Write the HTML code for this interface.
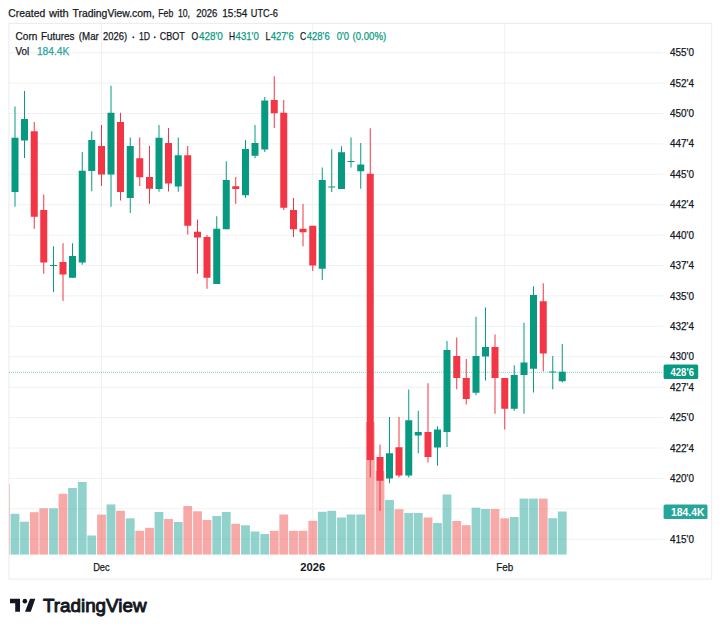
<!DOCTYPE html>
<html><head><meta charset="utf-8"><title>Corn Futures</title>
<style>
html,body{margin:0;padding:0;background:#fff;}
body{width:720px;height:632px;overflow:hidden;font-family:"Liberation Sans",sans-serif;}
svg{display:block;position:absolute;left:0;top:0;}
text{font-family:"Liberation Sans",sans-serif;font-size:11px;fill:#131722;stroke:#131722;stroke-width:0.25px;paint-order:stroke;}
.g{fill:#089981}.r{fill:#f23645}.vg{fill:rgba(38,166,154,0.5)}.vr{fill:rgba(239,83,80,0.5)}
</style></head><body>
<svg width="720" height="632" viewBox="0 0 720 632">
<rect x="0" y="0" width="720" height="632" fill="#fff"/>
<g fill="#f1f1f2">
<rect x="9" y="52.20" width="654" height="1"/>
<rect x="9" y="82.61" width="654" height="1"/>
<rect x="9" y="113.01" width="654" height="1"/>
<rect x="9" y="143.42" width="654" height="1"/>
<rect x="9" y="173.83" width="654" height="1"/>
<rect x="9" y="204.23" width="654" height="1"/>
<rect x="9" y="234.64" width="654" height="1"/>
<rect x="9" y="265.04" width="654" height="1"/>
<rect x="9" y="295.45" width="654" height="1"/>
<rect x="9" y="325.86" width="654" height="1"/>
<rect x="9" y="356.26" width="654" height="1"/>
<rect x="9" y="386.67" width="654" height="1"/>
<rect x="9" y="417.08" width="654" height="1"/>
<rect x="9" y="447.48" width="654" height="1"/>
<rect x="9" y="477.89" width="654" height="1"/>
<rect x="9" y="508.29" width="654" height="1"/>
<rect x="9" y="538.70" width="654" height="1"/>
<rect x="101.00" y="23.5" width="1" height="531.5"/>
<rect x="312.25" y="23.5" width="1" height="531.5"/>
<rect x="504.25" y="23.5" width="1" height="531.5"/>
</g>
<rect x="8.9" y="23.4" width="702.8" height="555.7" fill="none" stroke="#ebecef" stroke-width="1"/>
<g>
<rect class="vr" x="9.30" y="484.20" width="0.60" height="70.40"/>
<rect class="vg" x="10.60" y="513.80" width="8.80" height="40.80"/>
<rect class="vg" x="20.10" y="521.70" width="8.80" height="32.90"/>
<rect class="vr" x="29.85" y="512.20" width="8.80" height="42.40"/>
<rect class="vr" x="39.35" y="508.30" width="8.80" height="46.30"/>
<rect class="vg" x="49.10" y="508.30" width="8.80" height="46.30"/>
<rect class="vr" x="58.60" y="493.80" width="8.80" height="60.80"/>
<rect class="vg" x="68.10" y="488.00" width="8.80" height="66.60"/>
<rect class="vg" x="77.85" y="482.00" width="8.80" height="72.60"/>
<rect class="vg" x="87.35" y="535.50" width="8.80" height="19.10"/>
<rect class="vr" x="97.10" y="514.60" width="8.80" height="40.00"/>
<rect class="vg" x="106.60" y="504.40" width="8.80" height="50.20"/>
<rect class="vr" x="116.10" y="510.80" width="8.80" height="43.80"/>
<rect class="vg" x="125.85" y="518.30" width="8.80" height="36.30"/>
<rect class="vr" x="135.35" y="530.80" width="8.80" height="23.80"/>
<rect class="vr" x="145.10" y="527.80" width="8.80" height="26.80"/>
<rect class="vg" x="154.60" y="512.00" width="8.80" height="42.60"/>
<rect class="vr" x="164.10" y="519.00" width="8.80" height="35.60"/>
<rect class="vg" x="173.85" y="522.00" width="8.80" height="32.60"/>
<rect class="vr" x="183.35" y="506.00" width="8.80" height="48.60"/>
<rect class="vr" x="193.10" y="511.30" width="8.80" height="43.30"/>
<rect class="vr" x="202.60" y="520.00" width="8.80" height="34.60"/>
<rect class="vg" x="212.35" y="516.00" width="8.80" height="38.60"/>
<rect class="vg" x="221.85" y="512.00" width="8.80" height="42.60"/>
<rect class="vr" x="231.35" y="523.80" width="8.80" height="30.80"/>
<rect class="vg" x="241.10" y="525.30" width="8.80" height="29.30"/>
<rect class="vg" x="250.60" y="531.50" width="8.80" height="23.10"/>
<rect class="vg" x="260.35" y="534.00" width="8.80" height="20.60"/>
<rect class="vr" x="269.85" y="530.80" width="8.80" height="23.80"/>
<rect class="vr" x="279.35" y="514.50" width="8.80" height="40.10"/>
<rect class="vr" x="289.10" y="530.80" width="8.80" height="23.80"/>
<rect class="vr" x="298.60" y="530.80" width="8.80" height="23.80"/>
<rect class="vr" x="308.35" y="520.80" width="8.80" height="33.80"/>
<rect class="vg" x="317.85" y="511.80" width="8.80" height="42.80"/>
<rect class="vg" x="327.35" y="510.80" width="8.80" height="43.80"/>
<rect class="vg" x="337.10" y="517.50" width="8.80" height="37.10"/>
<rect class="vg" x="346.60" y="514.50" width="8.80" height="40.10"/>
<rect class="vg" x="356.35" y="514.50" width="8.80" height="40.10"/>
<rect class="vr" x="365.85" y="422.00" width="8.80" height="132.60"/>
<rect class="vr" x="375.60" y="471.00" width="8.80" height="83.60"/>
<rect class="vg" x="385.10" y="500.00" width="8.80" height="54.60"/>
<rect class="vr" x="394.60" y="509.20" width="8.80" height="45.40"/>
<rect class="vg" x="404.35" y="513.00" width="8.80" height="41.60"/>
<rect class="vg" x="413.85" y="513.00" width="8.80" height="41.60"/>
<rect class="vr" x="423.60" y="517.50" width="8.80" height="37.10"/>
<rect class="vg" x="433.10" y="523.00" width="8.80" height="31.60"/>
<rect class="vg" x="442.60" y="494.50" width="8.80" height="60.10"/>
<rect class="vr" x="452.35" y="521.00" width="8.80" height="33.60"/>
<rect class="vr" x="461.85" y="525.20" width="8.80" height="29.40"/>
<rect class="vg" x="471.60" y="507.70" width="8.80" height="46.90"/>
<rect class="vg" x="481.10" y="509.00" width="8.80" height="45.60"/>
<rect class="vr" x="490.60" y="509.00" width="8.80" height="45.60"/>
<rect class="vr" x="500.35" y="518.30" width="8.80" height="36.30"/>
<rect class="vg" x="509.85" y="517.00" width="8.80" height="37.60"/>
<rect class="vg" x="519.60" y="498.60" width="8.80" height="56.00"/>
<rect class="vg" x="529.10" y="498.60" width="8.80" height="56.00"/>
<rect class="vr" x="538.85" y="498.60" width="8.80" height="56.00"/>
<rect class="vg" x="548.35" y="518.20" width="8.80" height="36.40"/>
<rect class="vg" x="557.85" y="511.50" width="8.80" height="43.10"/>
</g>
<g>
<rect class="g" x="14.50" y="106.50" width="1" height="100.25"/><rect class="g" x="11.50" y="137.75" width="7" height="54.25"/>
<rect class="g" x="24.00" y="91.00" width="1" height="67.00"/><rect class="g" x="21.00" y="119.00" width="7" height="21.50"/>
<rect class="r" x="33.75" y="122.00" width="1" height="106.75"/><rect class="r" x="30.75" y="131.25" width="7" height="85.50"/>
<rect class="r" x="43.25" y="194.50" width="1" height="79.25"/><rect class="r" x="40.25" y="210.00" width="7" height="52.50"/>
<rect class="g" x="53.00" y="246.25" width="1" height="45.75"/><rect class="g" x="50.00" y="265.00" width="7" height="1.00"/>
<rect class="r" x="62.50" y="243.25" width="1" height="57.75"/><rect class="r" x="59.50" y="262.00" width="7" height="12.50"/>
<rect class="g" x="72.00" y="243.25" width="1" height="34.50"/><rect class="g" x="69.00" y="256.00" width="7" height="21.75"/>
<rect class="g" x="81.75" y="152.00" width="1" height="112.75"/><rect class="g" x="78.75" y="170.75" width="7" height="91.75"/>
<rect class="g" x="91.25" y="131.25" width="1" height="60.00"/><rect class="g" x="88.25" y="140.00" width="7" height="31.00"/>
<rect class="r" x="101.00" y="125.00" width="1" height="61.00"/><rect class="r" x="98.00" y="146.00" width="7" height="28.50"/>
<rect class="g" x="110.50" y="85.75" width="1" height="121.00"/><rect class="g" x="107.50" y="112.75" width="7" height="61.75"/>
<rect class="r" x="120.00" y="112.75" width="1" height="87.75"/><rect class="r" x="117.00" y="122.00" width="7" height="70.00"/>
<rect class="g" x="129.75" y="137.50" width="1" height="75.50"/><rect class="g" x="126.75" y="146.00" width="7" height="52.00"/>
<rect class="r" x="139.25" y="137.50" width="1" height="48.50"/><rect class="r" x="136.25" y="158.25" width="7" height="19.00"/>
<rect class="r" x="149.00" y="146.00" width="1" height="57.75"/><rect class="r" x="146.00" y="177.00" width="7" height="11.75"/>
<rect class="g" x="158.50" y="125.00" width="1" height="66.75"/><rect class="g" x="155.50" y="137.75" width="7" height="51.25"/>
<rect class="r" x="168.00" y="128.00" width="1" height="63.50"/><rect class="r" x="165.00" y="143.00" width="7" height="40.50"/>
<rect class="g" x="177.75" y="137.50" width="1" height="54.25"/><rect class="g" x="174.75" y="155.25" width="7" height="31.25"/>
<rect class="r" x="187.25" y="146.00" width="1" height="88.50"/><rect class="r" x="184.25" y="155.25" width="7" height="70.50"/>
<rect class="r" x="197.00" y="219.50" width="1" height="54.25"/><rect class="r" x="194.00" y="231.75" width="7" height="5.75"/>
<rect class="r" x="206.50" y="235.00" width="1" height="53.75"/><rect class="r" x="203.50" y="237.00" width="7" height="40.75"/>
<rect class="g" x="216.25" y="216.25" width="1" height="67.75"/><rect class="g" x="213.25" y="228.75" width="7" height="55.25"/>
<rect class="g" x="225.75" y="161.25" width="1" height="68.00"/><rect class="g" x="222.75" y="180.00" width="7" height="49.25"/>
<rect class="r" x="235.25" y="177.00" width="1" height="26.75"/><rect class="r" x="232.25" y="186.25" width="7" height="2.75"/>
<rect class="g" x="245.00" y="140.00" width="1" height="57.75"/><rect class="g" x="242.00" y="149.00" width="7" height="46.25"/>
<rect class="g" x="254.50" y="125.00" width="1" height="33.25"/><rect class="g" x="251.50" y="143.00" width="7" height="12.75"/>
<rect class="g" x="264.25" y="97.00" width="1" height="55.00"/><rect class="g" x="261.25" y="100.50" width="7" height="49.00"/>
<rect class="r" x="273.75" y="76.25" width="1" height="51.75"/><rect class="r" x="270.75" y="100.00" width="7" height="13.25"/>
<rect class="r" x="283.25" y="100.00" width="1" height="110.00"/><rect class="r" x="280.25" y="112.75" width="7" height="95.00"/>
<rect class="r" x="293.00" y="198.00" width="1" height="39.00"/><rect class="r" x="290.00" y="210.00" width="7" height="19.25"/>
<rect class="r" x="302.50" y="204.00" width="1" height="42.25"/><rect class="r" x="299.50" y="228.75" width="7" height="3.50"/>
<rect class="r" x="312.25" y="225.75" width="1" height="45.25"/><rect class="r" x="309.25" y="225.75" width="7" height="39.75"/>
<rect class="g" x="321.75" y="167.50" width="1" height="112.50"/><rect class="g" x="318.75" y="180.00" width="7" height="88.75"/>
<rect class="g" x="331.25" y="149.25" width="1" height="42.75"/><rect class="g" x="328.25" y="186.50" width="7" height="1.00"/>
<rect class="g" x="341.00" y="146.25" width="1" height="42.75"/><rect class="g" x="338.00" y="152.25" width="7" height="36.75"/>
<rect class="g" x="350.50" y="137.50" width="1" height="30.00"/><rect class="g" x="347.50" y="161.00" width="7" height="1.00"/>
<rect class="g" x="360.25" y="143.00" width="1" height="45.75"/><rect class="g" x="357.25" y="164.50" width="7" height="6.75"/>
<rect class="r" x="369.75" y="128.25" width="1" height="349.25"/><rect class="r" x="366.75" y="173.75" width="7" height="286.25"/>
<rect class="r" x="379.50" y="444.50" width="1" height="66.25"/><rect class="r" x="376.50" y="457.00" width="7" height="23.75"/>
<rect class="g" x="389.00" y="417.00" width="1" height="66.25"/><rect class="g" x="386.00" y="453.25" width="7" height="25.25"/>
<rect class="r" x="398.50" y="417.00" width="1" height="60.50"/><rect class="r" x="395.50" y="447.25" width="7" height="28.25"/>
<rect class="g" x="408.25" y="389.50" width="1" height="88.00"/><rect class="g" x="405.25" y="420.25" width="7" height="55.25"/>
<rect class="g" x="417.75" y="410.75" width="1" height="42.50"/><rect class="g" x="414.75" y="432.00" width="7" height="3.50"/>
<rect class="r" x="427.50" y="383.25" width="1" height="79.25"/><rect class="r" x="424.50" y="432.00" width="7" height="25.00"/>
<rect class="g" x="437.00" y="426.25" width="1" height="39.50"/><rect class="g" x="434.00" y="429.50" width="7" height="18.00"/>
<rect class="g" x="446.50" y="341.00" width="1" height="106.00"/><rect class="g" x="443.50" y="350.00" width="7" height="82.00"/>
<rect class="r" x="456.25" y="337.50" width="1" height="51.75"/><rect class="r" x="453.25" y="356.00" width="7" height="22.00"/>
<rect class="r" x="465.75" y="359.00" width="1" height="45.50"/><rect class="r" x="462.75" y="378.00" width="7" height="21.00"/>
<rect class="g" x="475.50" y="316.75" width="1" height="78.50"/><rect class="g" x="472.50" y="356.00" width="7" height="36.75"/>
<rect class="g" x="485.00" y="307.50" width="1" height="73.00"/><rect class="g" x="482.00" y="347.00" width="7" height="9.50"/>
<rect class="r" x="494.50" y="334.50" width="1" height="79.25"/><rect class="r" x="491.50" y="347.00" width="7" height="31.00"/>
<rect class="r" x="504.25" y="378.00" width="1" height="51.50"/><rect class="r" x="501.25" y="378.00" width="7" height="30.75"/>
<rect class="g" x="513.75" y="365.25" width="1" height="45.50"/><rect class="g" x="510.75" y="375.00" width="7" height="33.75"/>
<rect class="g" x="523.50" y="322.75" width="1" height="91.00"/><rect class="g" x="520.50" y="362.50" width="7" height="12.50"/>
<rect class="g" x="533.00" y="286.25" width="1" height="106.25"/><rect class="g" x="530.00" y="295.00" width="7" height="73.75"/>
<rect class="r" x="542.75" y="283.25" width="1" height="88.00"/><rect class="r" x="539.75" y="301.25" width="7" height="52.25"/>
<rect class="g" x="552.25" y="356.00" width="1" height="33.25"/><rect class="g" x="549.25" y="371.50" width="7" height="1.00"/>
<rect class="g" x="561.75" y="344.00" width="1" height="38.50"/><rect class="g" x="558.75" y="371.75" width="7" height="9.50"/>
</g>
<line x1="9" x2="663" y1="372.30" y2="372.30" stroke="#089981" stroke-width="1" stroke-opacity="0.48" stroke-dasharray="1 1"/>
<text x="670" y="56.2" textLength="24" lengthAdjust="spacingAndGlyphs">455'0</text>
<text x="670" y="86.6" textLength="24" lengthAdjust="spacingAndGlyphs">452'4</text>
<text x="670" y="117.0" textLength="24" lengthAdjust="spacingAndGlyphs">450'0</text>
<text x="670" y="147.4" textLength="24" lengthAdjust="spacingAndGlyphs">447'4</text>
<text x="670" y="177.8" textLength="24" lengthAdjust="spacingAndGlyphs">445'0</text>
<text x="670" y="208.2" textLength="24" lengthAdjust="spacingAndGlyphs">442'4</text>
<text x="670" y="238.6" textLength="24" lengthAdjust="spacingAndGlyphs">440'0</text>
<text x="670" y="269.0" textLength="24" lengthAdjust="spacingAndGlyphs">437'4</text>
<text x="670" y="299.5" textLength="24" lengthAdjust="spacingAndGlyphs">435'0</text>
<text x="670" y="329.9" textLength="24" lengthAdjust="spacingAndGlyphs">432'4</text>
<text x="670" y="360.3" textLength="24" lengthAdjust="spacingAndGlyphs">430'0</text>
<text x="670" y="390.7" textLength="24" lengthAdjust="spacingAndGlyphs">427'4</text>
<text x="670" y="421.1" textLength="24" lengthAdjust="spacingAndGlyphs">425'0</text>
<text x="670" y="451.5" textLength="24" lengthAdjust="spacingAndGlyphs">422'4</text>
<text x="670" y="481.9" textLength="24" lengthAdjust="spacingAndGlyphs">420'0</text>
<text x="670" y="542.7" textLength="24" lengthAdjust="spacingAndGlyphs">415'0</text>
<rect x="663.6" y="364.5" width="34.6" height="14.5" rx="1.5" fill="#089981"/>
<text x="670.5" y="375.8" textLength="23.5" lengthAdjust="spacingAndGlyphs" style="fill:#fff;stroke:none;font-weight:bold">428'6</text>
<rect x="663.6" y="504.5" width="43.9" height="14.5" rx="1.5" fill="#26a69a"/>
<text x="671" y="515.8" textLength="33.5" lengthAdjust="spacingAndGlyphs" style="fill:#fff;stroke:none;font-weight:bold">184.4K</text>
<text x="101.4" y="571" text-anchor="middle" textLength="16.5" lengthAdjust="spacingAndGlyphs">Dec</text>
<text x="312.7" y="571" text-anchor="middle" textLength="25" lengthAdjust="spacingAndGlyphs" style="font-weight:bold;stroke:none">2026</text>
<text x="504.7" y="571" text-anchor="middle" textLength="17" lengthAdjust="spacingAndGlyphs">Feb</text>
<text x="8.3" y="16.7" textLength="36.9" lengthAdjust="spacingAndGlyphs">Created</text>
<text x="49.0" y="16.7" textLength="19.8" lengthAdjust="spacingAndGlyphs">with</text>
<text x="72.5" y="16.7" textLength="82.1" lengthAdjust="spacingAndGlyphs">TradingView.com,</text>
<text x="158.3" y="16.7" textLength="15.0" lengthAdjust="spacingAndGlyphs">Feb</text>
<text x="177.9" y="16.7" textLength="12.1" lengthAdjust="spacingAndGlyphs">10,</text>
<text x="196.2" y="16.7" textLength="21.2" lengthAdjust="spacingAndGlyphs">2026</text>
<text x="222.3" y="16.7" textLength="25.0" lengthAdjust="spacingAndGlyphs">15:54</text>
<text x="250.8" y="16.7" textLength="27.1" lengthAdjust="spacingAndGlyphs">UTC-6</text>
<text x="15.6" y="40.2" textLength="21.8" lengthAdjust="spacingAndGlyphs">Corn</text>
<text x="40.9" y="40.2" textLength="33.6" lengthAdjust="spacingAndGlyphs">Futures</text>
<text x="78.8" y="40.2" textLength="20.0" lengthAdjust="spacingAndGlyphs">(Mar</text>
<text x="103.1" y="40.2" textLength="24.0" lengthAdjust="spacingAndGlyphs">2026)</text>
<rect x="132.6" y="36.5" width="1.6" height="1.6" fill="#131722"/>
<text x="138.9" y="40.2" textLength="11.1" lengthAdjust="spacingAndGlyphs">1D</text>
<rect x="153.9" y="36.5" width="1.6" height="1.6" fill="#131722"/>
<text x="159.7" y="40.2" textLength="25.0" lengthAdjust="spacingAndGlyphs">CBOT</text>
<text x="191.6" y="40.2" textLength="6.7" lengthAdjust="spacingAndGlyphs">O</text>
<text x="198.9" y="40.2" textLength="23.9" lengthAdjust="spacingAndGlyphs" style="fill:#089981;stroke:#089981">428'0</text>
<text x="228.9" y="40.2" textLength="6.1" lengthAdjust="spacingAndGlyphs">H</text>
<text x="235.6" y="40.2" textLength="23.2" lengthAdjust="spacingAndGlyphs" style="fill:#089981;stroke:#089981">431'0</text>
<text x="265.5" y="40.2" textLength="4.9" lengthAdjust="spacingAndGlyphs">L</text>
<text x="270.7" y="40.2" textLength="23.0" lengthAdjust="spacingAndGlyphs" style="fill:#089981;stroke:#089981">427'6</text>
<text x="300.0" y="40.2" textLength="6.2" lengthAdjust="spacingAndGlyphs">C</text>
<text x="306.8" y="40.2" textLength="22.9" lengthAdjust="spacingAndGlyphs" style="fill:#089981;stroke:#089981">428'6</text>
<text x="336.7" y="40.2" textLength="12.3" lengthAdjust="spacingAndGlyphs" style="fill:#089981;stroke:#089981">0'0</text>
<text x="352.6" y="40.2" textLength="33.6" lengthAdjust="spacingAndGlyphs" style="fill:#089981;stroke:#089981">(0.00%)</text>
<text x="15.6" y="54.7" textLength="13.7" lengthAdjust="spacingAndGlyphs">Vol</text>
<text x="36.9" y="54.7" textLength="32.5" lengthAdjust="spacingAndGlyphs" style="fill:#26a69a;stroke:#26a69a">184.4K</text>
<g transform="translate(10,596) scale(0.715)" fill="#131722"><path d="M14 22H7.3V10.2H0V4h14v18zM29 22h-8l7-18h7.4L29 22z"/><circle cx="20.8" cy="7.2" r="3.2"/></g>
<text x="43" y="612" textLength="103.5" lengthAdjust="spacingAndGlyphs" style="font-size:18.5px;fill:#131722;stroke:#131722;stroke-width:0.95px;stroke-linejoin:round">TradingView</text>
</svg>
</body></html>
